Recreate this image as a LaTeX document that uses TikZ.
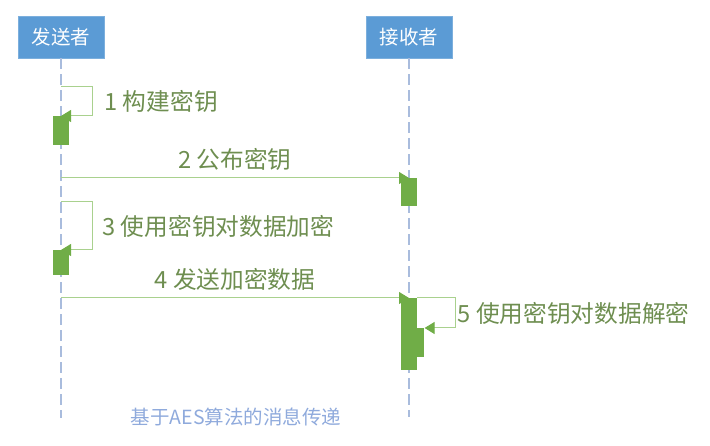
\documentclass[tikz,border=0pt]{standalone}
\usepackage{fontspec}
\setmainfont{Noto Sans CJK SC}
\usetikzlibrary{arrows.meta,positioning,calc}

\definecolor{actorblue}{HTML}{5B9BD5}
\definecolor{actgreen}{HTML}{70AD47}
\definecolor{msggreen}{HTML}{A9D18E}
\definecolor{lblgreen}{HTML}{6E8E50}
\definecolor{lifegray}{HTML}{A9BCDD}
\definecolor{capblue}{HTML}{8FAADC}

\begin{document}
\begin{tikzpicture}[
    x=1pt, y=-1pt,
    actor/.style={rectangle, draw=actorblue!80!white, fill=actorblue, text=white, minimum width=86pt, minimum height=42pt, font=\fontsize{19.5}{19.5}\selectfont},
    life/.style={draw=lifegray, line width=1.5pt, dash pattern=on 11pt off 5pt},
    bar/.style={rectangle, fill=actgreen, minimum width=16pt, inner sep=0pt, anchor=north},
    msg/.style={draw=msggreen, line width=1pt, -{Triangle[length=10pt, width=12pt, color=actgreen]}},
    lbl/.style={text=lblgreen, font=\fontsize{23.7}{23.7}\selectfont, inner sep=2pt},
    captext/.style={text=capblue, font=\fontsize{19.5}{19.5}\selectfont},
]
\useasboundingbox (0,0) rectangle (710,446);

% ================== Actors ==================
\node[actor] (snd) at (61,37) {发送者};
\node[actor] (rcv) at (409,37) {接收者};

\coordinate (sndEnd) at (61,418);
\coordinate (rcvEnd) at (409,417);
\draw[life] (snd.south) -- (sndEnd);
\draw[life] (rcv.south) -- (rcvEnd);

% ================== Activations ==================
\node[bar, minimum height=29pt] (b1) at (61,116) {};
\node[bar, minimum height=28pt] (b2) at (409,178) {};
\node[bar, minimum height=25pt] (b3) at (61,250) {};
\node[bar, minimum height=72pt] (b4) at (409,298) {};
\node[bar, minimum width=8pt, minimum height=29pt, anchor=north west] (b5) at ($(b4.north east)+(-1,30)$) {};

% ================== Messages ==================
\coordinate (m1) at (61,87);
\coordinate (m2) at (61,178);
\coordinate (m3) at (61,202);
\coordinate (m4) at (61,298);

\draw[msg] (m1) -- ++(31,0) |- node[lbl, right=10pt, pos=0.25] {1 构建密钥} (b1.north);
\draw[msg] (m2) -- node[lbl, above=5pt] {2 公布密钥} (b2.north);
\draw[msg] (m3) -- ++(31,0) |- node[lbl, right=8pt, pos=0.25] {3 使用密钥对数据加密} (b3.north);
\draw[msg] (m4) -- node[lbl, above=5pt] {4 发送加密数据} (b4.north);
\draw[msg] (b4.north east) -- ++(38,0) |- node[lbl, right=0pt, pos=0.25] {5 使用密钥对数据解密} (b5.north east);

% caption
\node[captext] (title) at (236,417) {基于AES算法的消息传递};

\end{tikzpicture}
\end{document}
